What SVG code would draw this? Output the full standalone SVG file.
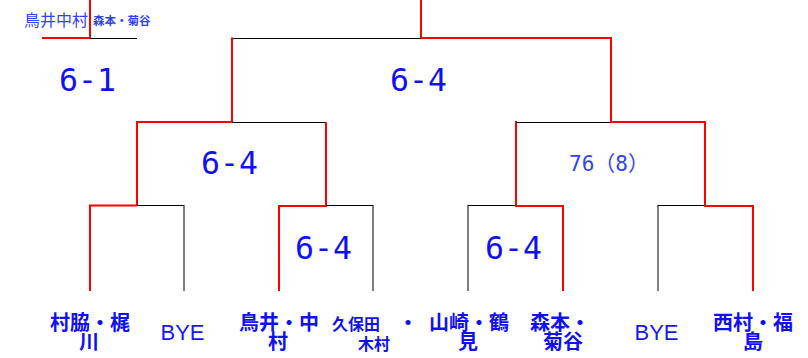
<svg xmlns="http://www.w3.org/2000/svg" width="808" height="358" viewBox="0 0 808 358">
<style>
.r{stroke:#ff0000;stroke-width:2;fill:none}
.k{stroke:#000000;stroke-width:1;fill:none}
.sc{font-family:"DejaVu Sans Mono",monospace;font-size:31.5px;fill:#1010f0}
.nm{font-family:"Noto Sans CJK JP",sans-serif;font-size:20px;font-weight:bold;fill:#1010f0;text-anchor:middle}
.bye{font-family:"Liberation Sans",sans-serif;font-size:22px;fill:#1818f0}
.lt{fill:#3344ee}
</style>
<rect width="808" height="358" fill="#ffffff"/>
<g id="connectors">
<line class="r" x1="90" y1="0" x2="90" y2="38"/>
<line class="r" x1="42" y1="38" x2="90" y2="38"/>
<line class="k" x1="90" y1="38.5" x2="137" y2="38.5" stroke-width="1.5"/>
<line class="r" x1="421" y1="0" x2="421" y2="39"/>
<line class="k" x1="232" y1="38.5" x2="421" y2="38.5"/>
<line class="r" x1="421" y1="38" x2="612" y2="38"/>
<line class="r" x1="232" y1="37.5" x2="232" y2="122"/>
<line class="r" x1="611" y1="38" x2="611" y2="122"/>
<line class="r" x1="136" y1="122" x2="233" y2="122"/>
<line class="k" x1="232" y1="122.5" x2="326" y2="122.5"/>
<line class="r" x1="137" y1="121" x2="137" y2="206"/>
<line class="r" x1="326" y1="122" x2="326" y2="206"/>
<line class="r" x1="516" y1="121" x2="516" y2="206"/>
<line class="k" x1="516" y1="122.5" x2="611" y2="122.5"/>
<line class="r" x1="610" y1="122" x2="706" y2="122"/>
<line class="r" x1="705" y1="122" x2="705" y2="206"/>
<line class="r" x1="89" y1="205.5" x2="137" y2="205.5"/>
<line class="k" x1="137" y1="205.5" x2="184" y2="205.5"/>
<line class="r" x1="90" y1="205" x2="90" y2="291"/>
<line class="k" x1="184" y1="205" x2="184" y2="291"/>
<line class="r" x1="278" y1="206" x2="327" y2="206"/>
<line class="k" x1="326" y1="205.5" x2="373" y2="205.5"/>
<line class="r" x1="279" y1="205" x2="279" y2="291"/>
<line class="k" x1="373" y1="205" x2="373" y2="291"/>
<line class="k" x1="468" y1="205.5" x2="516" y2="205.5"/>
<line class="r" x1="515" y1="206" x2="564" y2="206"/>
<line class="k" x1="468" y1="205" x2="468" y2="291"/>
<line class="r" x1="563" y1="205" x2="563" y2="291"/>
<line class="k" x1="658" y1="205.5" x2="705" y2="205.5"/>
<line class="r" x1="704" y1="206" x2="754" y2="206"/>
<line class="k" x1="658" y1="205" x2="658" y2="291"/>
<line class="r" x1="753" y1="205" x2="753" y2="291"/>
</g>
<g id="header">
<text x="24" y="26" font-family="Noto Sans CJK JP, sans-serif" font-size="16" class="lt">鳥井中村</text>
<text x="93" y="25" font-family="Noto Sans CJK JP, sans-serif" font-size="11.5" font-weight="bold" class="lt">森本・菊谷</text>
</g>
<g id="scores">
<text class="sc" x="59" y="91">6-1</text>
<text class="sc" x="390" y="91">6-4</text>
<text class="sc" x="201" y="174">6-4</text>
<text class="sc" x="295" y="259">6-4</text>
<text class="sc" x="485" y="259">6-4</text>
<text x="569" y="171" font-family="DejaVu Sans Mono, Noto Sans CJK JP, monospace" font-size="21" class="lt">76（8）</text>
</g>
<g id="p1"><text class="nm" x="90" y="330">村脇・梶</text><text class="nm" x="89" y="349">川</text></g>
<g id="p2"><text class="bye" x="160.5" y="340">BYE</text></g>
<g id="p3"><text class="nm" x="279" y="330">鳥井・中</text><text class="nm" x="278" y="349">村</text></g>
<g id="p4"><text x="332" y="330" font-family="Noto Sans CJK JP, sans-serif" font-size="16" font-weight="bold" fill="#1010f0">久保田</text><text x="390" y="350" font-family="Noto Sans CJK JP, sans-serif" font-size="16" font-weight="bold" fill="#1010f0" text-anchor="end">木村</text></g>
<g id="p5"><text class="nm" x="408" y="330">・</text></g>
<g id="p6"><text class="nm" x="469" y="330">山崎・鶴</text><text class="nm" x="468" y="349">見</text></g>
<g id="p7"><text class="nm" x="560" y="330">森本・</text><text class="nm" x="563" y="349">菊谷</text></g>
<g id="p8"><text class="bye" x="634.5" y="340">BYE</text></g>
<g id="p9"><text class="nm" x="753" y="330">西村・福</text><text class="nm" x="753" y="349">島</text></g>
</svg>
